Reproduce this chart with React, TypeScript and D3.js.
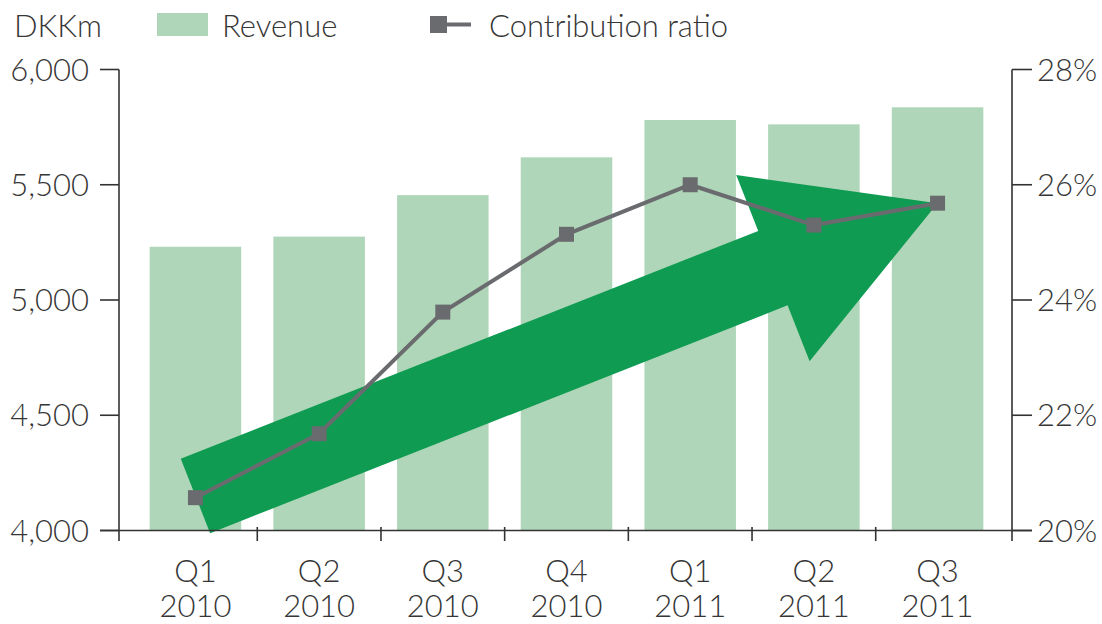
import React from "react";
import * as d3 from "d3";

const categories = ["Q1 2010", "Q2 2010", "Q3 2010", "Q4 2010", "Q1 2011", "Q2 2011", "Q3 2011"];
const revenue = [5231, 5275, 5455, 5619, 5781, 5762, 5836];
const contributionRatio = [20.57, 21.68, 23.79, 25.14, 26.0, 25.3, 25.68];
const leftTicks = [4000, 4500, 5000, 5500, 6000];
const rightTicks = [20, 22, 24, 26, 28];
// arrow annotation: from Q1 2010 (at revenue 4,150) to the last ratio point
const arrowFrom = { category: "Q1 2010", revenue: 4150 };

const W = 1102;
const H = 624;
const FONT = "Lato, 'Open Sans', sans-serif";
const TEXT = "#363636";
const AXIS = "#333333";
const BAR = "#afd6b8";
const LINE = "#6a6b6e";
const ARROW = "#0f9b52";
const FS = 31;

const App = () => {
  const top = 69.5;
  const bottom = 530.5;
  const leftAxisX = 119;
  const rightAxisX = 1012;

  const x = d3
    .scaleBand()
    .domain(categories)
    .range([133.6, 999.4])
    .paddingInner(0.26)
    .paddingOuter(0.13);

  const yLeft = d3.scaleLinear().domain([4000, 6000]).range([bottom, top]);
  const yRight = d3.scaleLinear().domain([20, 28]).range([bottom, top]);

  const cx = (c) => (x(c) as number) + x.bandwidth() / 2;

  const pts = categories.map((c, i) => [cx(c), yRight(contributionRatio[i])]);
  const line = d3.line()(pts as [number, number][]);

  // arrow geometry in pixel space from data anchors
  const S = [cx(arrowFrom.category), yLeft(arrowFrom.revenue)];
  const T = pts[pts.length - 1];
  const dx = T[0] - S[0];
  const dy = T[1] - S[1];
  const len = Math.sqrt(dx * dx + dy * dy);
  const u = [dx / len, dy / len];
  const n = [-u[1], u[0]];
  const shaftHalf = 40;
  const headHalf = 100;
  const headLen = 177;
  const at = (along, across) => [
    S[0] + u[0] * along + n[0] * across,
    S[1] + u[1] * along + n[1] * across,
  ];
  const arrowPts = [
    at(0, -shaftHalf),
    at(len - headLen, -shaftHalf),
    at(len - headLen, -headHalf),
    T,
    at(len - headLen, headHalf),
    at(len - headLen, shaftHalf),
    at(0, shaftHalf),
  ];

  const boundaries = categories.slice(1).map((c) => (x(c) as number) - (x.step() - x.bandwidth()) / 2);

  return (
    <svg
      width={W}
      height={H}
      style={{ position: "absolute", left: 0, top: 0, background: "#fff" }}
      fontFamily={FONT}
      fontWeight={300}
    >
      {/* legend */}
      <text x={14} y={37} fontSize={FS} fill={TEXT}>DKKm</text>
      <rect x={157} y={13} width={51} height={23} fill={BAR} />
      <text x={222} y={37} fontSize={FS} fill={TEXT}>Revenue</text>
      <rect x={430} y={16} width={17} height={17} fill={LINE} />
      <line x1={445} x2={471} y1={24.5} y2={24.5} stroke={LINE} strokeWidth={4} />
      <text x={489} y={37} fontSize={FS} fill={TEXT}>Contribution ratio</text>

      {/* bars */}
      {categories.map((c, i) => (
        <rect
          key={c}
          x={x(c)}
          y={yLeft(revenue[i])}
          width={x.bandwidth()}
          height={bottom - yLeft(revenue[i])}
          fill={BAR}
        />
      ))}

      {/* arrow */}
      <polygon points={arrowPts.map((p) => p.join(",")).join(" ")} fill={ARROW} />

      {/* contribution ratio line */}
      <path d={line as string} fill="none" stroke={LINE} strokeWidth={4} />
      {pts.map((p, i) => (
        <rect key={i} x={p[0] - 7.5} y={p[1] - 7.5} width={15} height={15} fill={LINE} />
      ))}

      {/* axes */}
      <g stroke={AXIS} strokeWidth={1.6}>
        <line x1={leftAxisX} x2={leftAxisX} y1={top} y2={541} />
        <line x1={rightAxisX} x2={rightAxisX} y1={top} y2={541} />
        <line x1={100} x2={1032} y1={bottom} y2={bottom} />
        {leftTicks.map((t) => (
          <line key={t} x1={100} x2={leftAxisX} y1={yLeft(t)} y2={yLeft(t)} />
        ))}
        {rightTicks.map((t) => (
          <line key={t} x1={rightAxisX} x2={1032} y1={yRight(t)} y2={yRight(t)} />
        ))}
        {boundaries.map((b, i) => (
          <line key={i} x1={b} x2={b} y1={527} y2={541} />
        ))}
      </g>

      {leftTicks.map((t) => (
        <text key={t} x={89} y={yLeft(t) + 11} fontSize={FS} textAnchor="end" fill={TEXT}>
          {d3.format(",")(t)}
        </text>
      ))}
      {rightTicks.map((t) => (
        <text key={t} x={1037} y={yRight(t) + 11} fontSize={FS} fill={TEXT}>
          {t}%
        </text>
      ))}

      {categories.map((c) => {
        const [q, yr] = c.split(" ");
        return (
          <text key={c} x={cx(c)} fontSize={FS} textAnchor="middle" fill={TEXT}>
            <tspan x={cx(c)} y={582}>{q}</tspan>
            <tspan x={cx(c)} y={617}>{yr}</tspan>
          </text>
        );
      })}
    </svg>
  );
};

export default App;
